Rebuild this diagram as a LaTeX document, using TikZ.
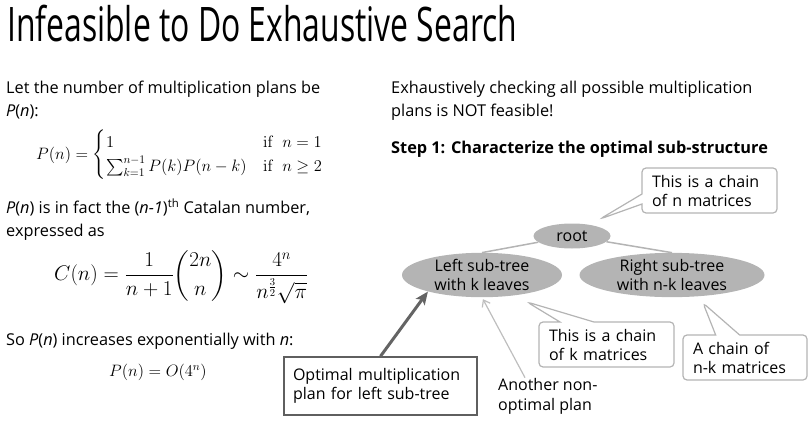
\RequirePackage{fix-cm}
\documentclass[tikz,border=0pt]{standalone}
\usepackage{amsmath}
\usepackage{amsfonts}
\usepackage[no-math]{fontspec}
\setmainfont{Open Sans}
\usepackage{xcolor}
\usetikzlibrary{shapes.geometric,shapes.callouts,arrows.meta}

\definecolor{treegray}{RGB}{180,180,180}
\definecolor{pathgray}{RGB}{190,190,190}
\definecolor{optgray}{RGB}{100,100,100}
\definecolor{boxgray}{RGB}{95,95,95}
\newcommand{\bodyfont}{\fontsize{16.3}{23}\selectfont}
\newcommand{\nodefont}{\fontsize{16}{19}\selectfont}
\newcommand{\mathfont}{\fontsize{16.5}{20}\selectfont}

\begin{document}
\begin{tikzpicture}[x=1pt,y=-1pt,
    line/.style={anchor=base west,inner sep=0pt,font=\bodyfont},
    formula/.style={anchor=west,inner sep=0pt,font=\mathfont},
    subtree/.style={ellipse,fill=treegray,inner sep=0pt,font=\nodefont,align=center},
    chainbox/.style={rectangle callout,draw=treegray,line width=1.2pt,rounded corners=4pt,
        fill=white,font=\nodefont,align=left,inner xsep=10pt,inner ysep=0pt,minimum height=45pt},
    edge/.style={draw=treegray,line width=1.5pt}]
    \useasboundingbox (0,0) rectangle (810,420);

    % Title
    \node[anchor=base west,inner sep=0pt] (title) at (7,42)
        {\resizebox{510pt}{\height}{\fontsize{47.6}{50}\selectfont Infeasible to Do Exhaustive Search}};

    % Left column: counting the plans
    \node[line] (let1) at (6,93) {Let the number of multiplication plans be};
    \node[line] (let2) at (6,116) {\textit{P}(\textit{n}):};
    \node[formula] (recur) at (36,155)
        {$P(n)=\begin{cases}1 & \mathrm{if}\ \ n=1\\ \sum_{k=1}^{n-1}P(k)P(n-k) & \mathrm{if}\ \ n\geq 2\end{cases}$};
    \node[line] (cat1) at (6,213) {\textit{P}(\textit{n}) is in fact the (\textit{n-1})\textsuperscript{th} Catalan number,};
    \node[line] (cat2) at (6,236) {expressed as};
    \node[formula,font=\fontsize{20.3}{24}\selectfont] (catalan) at (54,277)
        {\scalebox{1.04}{$\displaystyle C(n)=\frac{1}{n+1}\binom{2n}{n}\sim\frac{4^n}{n^{\frac{3}{2}}\sqrt{\pi}}$}};
    \node[line] (grow) at (6,345) {So \textit{P}(\textit{n}) increases exponentially with \textit{n}:};
    \node[formula] (bigo) at (109,372) {$P(n)=O(4^n)$};

    % Right column
    \node[line] (exh1) at (391,93) {Exhaustively checking all possible multiplication};
    \node[line] (exh2) at (391,116) {plans is NOT feasible!};
    \node[line] (step) at (391,153) {\textbf{Step 1: Characterize the optimal sub-structure}};

    % Draw the tree
    \node[subtree,minimum width=77pt,minimum height=25pt] (root) at (572,236) {root};
    \node[subtree,minimum width=160pt,minimum height=40pt] (left) at (482,275) {Left sub-tree\\with k leaves};
    \node[subtree,minimum width=185pt,minimum height=40pt] (right) at (672,275) {Right sub-tree\\with n-k leaves};
    \draw[edge] (root) -- (left.north);
    \draw[edge] (root) -- (right.north);

    % Callouts
    \coordinate (rootptr) at (600,219);
    \coordinate (leftptr) at (527,302);
    \coordinate (rightptr) at (703,303);
    \node[chainbox,text width=115pt,callout absolute pointer=(rootptr),callout pointer width=10pt]
        (nchain) at (709.5,190.5) {This is a chain\\of n matrices};
    \node[chainbox,text width=115pt,callout absolute pointer=(leftptr),callout pointer width=34pt]
        (kchain) at (606.5,344.5) {This is a chain\\of k matrices};
    \node[chainbox,text width=104pt,callout absolute pointer=(rightptr),callout pointer width=24pt]
        (nkchain) at (745,357.5) {A chain of\\n-k matrices};

    % Optimal and non-optimal plans
    \node[draw=boxgray,line width=1.5pt,font=\nodefont,align=left,text width=175pt,
        inner xsep=9pt,inner ysep=0pt,minimum height=58pt] (opt) at (380.5,386)
        {Optimal multiplication\\plan for left sub-tree};
    \draw[draw=optgray,line width=3pt,-{Stealth[length=13pt,width=11pt,inset=3pt]}] (opt.north) -- (left.197);
    \node[line,font=\nodefont] (other1) at (498,390) {Another non-};
    \node[line,font=\nodefont] (other2) at (498,410) {optimal plan};
    \draw[draw=pathgray,line width=1.2pt,-{Straight Barb[length=6pt,width=9pt]},shorten >=2pt]
        ([xshift=27pt]other1.north west) -- (left.south);

\end{tikzpicture}
\end{document}
